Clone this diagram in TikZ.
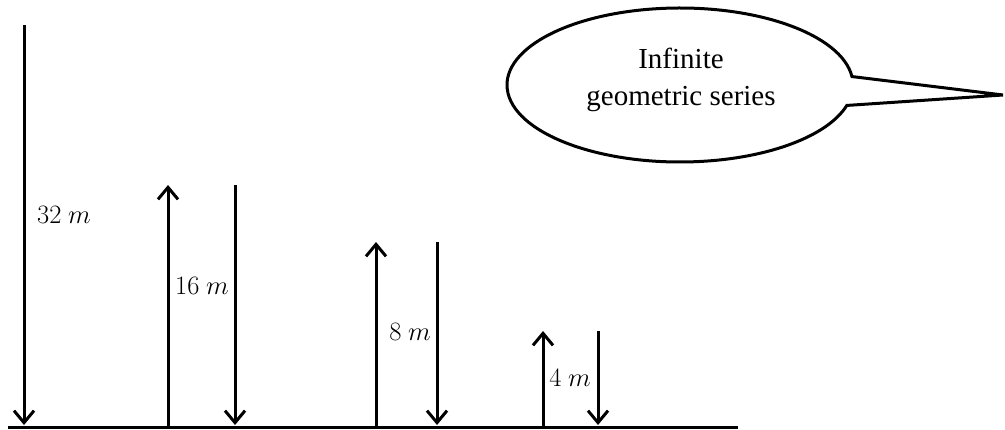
\RequirePackage{fix-cm}
\documentclass[tikz,border=0pt]{standalone}
\usepackage{fontspec}
\setmainfont{Liberation Serif}
\usetikzlibrary{arrows.meta}
\begin{document}
\begin{tikzpicture}[x=1pt,y=1pt,
  motion/.style={line width=3pt,-{Straight Barb[length=12pt,width=20pt,line width=3pt]}},
  lbl/.style={inner sep=0pt,font=\fontsize{26.5}{30}\selectfont},
  callout/.style={line width=3pt,line join=miter}]
\useasboundingbox (0,0) rectangle (1005,429);
% ground
\coordinate (g0) at (8,2);
\coordinate (g1) at (738,2);
\draw[line width=3pt] (g0) -- (g1);
% bounce ends
\coordinate (a1) at (24,404);  \coordinate (b1) at (24,4);
\coordinate (a2) at (168,1);   \coordinate (b2) at (168,244);
\coordinate (a3) at (235,244); \coordinate (b3) at (235,4);
\coordinate (a4) at (376,1);   \coordinate (b4) at (376,187);
\coordinate (a5) at (437,187); \coordinate (b5) at (437,4);
\coordinate (a6) at (543,1);   \coordinate (b6) at (543,98);
\coordinate (a7) at (598,98);  \coordinate (b7) at (598,4);
\draw[motion] (a1) -- (b1);
\draw[motion] (a2) -- (b2);
\draw[motion] (a3) -- (b3);
\draw[motion] (a4) -- (b4);
\draw[motion] (a5) -- (b5);
\draw[motion] (a6) -- (b6);
\draw[motion] (a7) -- (b7);
% labels
\node[lbl] (l32) at (64,214) {$32\ m$};
\node[lbl] (l16) at (202,143) {$16\ m$};
\node[lbl] (l8) at (410,97) {$8\ m$};
\node[lbl] (l4) at (570,51) {$4\ m$};
% callout
\coordinate (tip) at (1003,334);
\draw[callout] (tip) -- ([shift={(680,344)}]6.3:173 and 77)
  arc[start angle=6.3,end angle=344.6,x radius=173,y radius=77] -- cycle;
\node[align=center,inner sep=0pt,font=\fontsize{29}{37}\selectfont] (txt) at (681,349) {Infinite\\geometric series};
\end{tikzpicture}
\end{document}
